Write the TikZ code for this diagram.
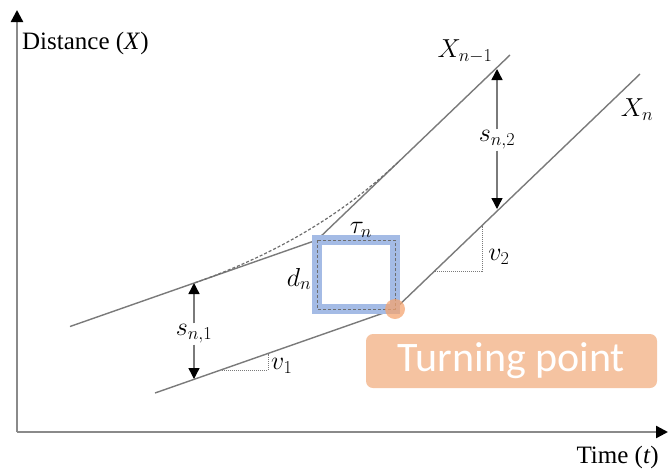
\RequirePackage{fix-cm}
\documentclass[tikz,border=0pt]{standalone}
\usepackage{fontspec}
\setmainfont{Liberation Serif}
\newfontfamily\tpfont{Carlito}
\usetikzlibrary{arrows.meta,positioning,calc}
\definecolor{axisgray}{HTML}{8A8A8A}
\definecolor{linegray}{HTML}{7A7A7A}
\definecolor{gapblue}{HTML}{A4BBE5}
\definecolor{tporange}{HTML}{F4A470}
\definecolor{tpfill}{HTML}{F5C3A1}

\begin{document}
\begin{tikzpicture}[
  x=1pt, y=-1pt,
  axis/.style={draw=axisgray, line width=2.4pt,
    -{Triangle[length=12pt, width=12pt, color=black, fill=black]}},
  traj/.style={draw=linegray, line width=1.4pt},
  curve/.style={draw=linegray!90!black, line width=1.2pt, dash pattern=on 3pt off 2pt},
  dimarrow/.style={draw=linegray, line width=1.4pt,
    -{Triangle[length=11pt, width=11pt, color=black, fill=black]}},
  slope/.style={draw=linegray, line width=1pt, densely dotted},
  lbl/.style={font=\fontsize{26}{31}\selectfont, inner sep=1pt},
  tpbox/.style={fill=tpfill, rounded corners=7pt, minimum width=291pt,
    minimum height=54pt, inner sep=0pt, text=white,
    font=\tpfont\fontsize{42}{50}\selectfont}
]
  \useasboundingbox (0,0) rectangle (669,472);
  % Axes
  \coordinate (O) at (17,432);
  \coordinate (ytip) at (17,10);
  \coordinate (xtip) at (668,432);
  \draw[axis] (O) -- (ytip);
  \draw[axis] (O) -- (xtip);
  \node[lbl, font=\fontsize{25}{30}\selectfont, anchor=west] (ylabel) at (21,43)
    {Distance (\textit{X})};
  \node[lbl, font=\fontsize{25}{30}\selectfont, anchor=east] (xlabel) at (660,457)
    {Time (\textit{t})};
  % Trajectories
  \coordinate (a0) at (70,326.5);
  \coordinate (a1) at (317,240);
  \coordinate (a2) at (510,55);
  \coordinate (b0) at (155,393);
  \coordinate (b1) at (395,309);
  \coordinate (b2) at (640,74);
  \draw[traj] (a0) -- (a1) -- (a2);
  \draw[traj] (b0) -- (b1) -- (b2);
  \node[lbl] (lblprev) at (465,51) {$X_{n-1}$};
  \node[lbl] (lblcur) at (637,110) {$X_n$};
  % Smooth transition
  \coordinate (c0) at (195,282.75);
  \coordinate (c1) at (400,160.3);
  \draw[curve] (c0) .. controls ($(c0)!2/3!(a1)$) and ($(c1)!2/3!(a1)$) .. (c1);
  % Gap box
  \draw[gapblue, line width=9.5pt] (a1) rectangle (b1);
  \draw[curve, line width=0.9pt] (a1) rectangle (b1);
  \fill[tporange, opacity=.75] (b1) circle (10pt);
  \node[lbl] (dlbl) at (299,279) {$d_n$};
  \node[lbl] (taulbl) at (361,230) {$\tau_n$};
  % Spacings
  \node[lbl] (s1) at (194,334) {$s_{n,1}$};
  \coordinate (s1top) at (194,283);
  \coordinate (s1bot) at (194,379);
  \draw[dimarrow] (s1) -- (s1top);
  \draw[dimarrow] (s1) -- (s1bot);
  \node[lbl] (s2) at (497,140) {$s_{n,2}$};
  \coordinate (s2top) at (497,69);
  \coordinate (s2bot) at (497,209);
  \draw[dimarrow] (s2) -- (s2top);
  \draw[dimarrow] (s2) -- (s2bot);
  % Speeds
  \coordinate (v1a) at (222,370);
  \coordinate (v1b) at (268,370);
  \coordinate (v1c) at (268,353.5);
  \draw[slope] (v1a) -- (v1b) -- (v1c);
  \node[lbl, anchor=west] (v1lbl) at (270,366) {$v_1$};
  \coordinate (v2a) at (435,271);
  \coordinate (v2b) at (482,271);
  \coordinate (v2c) at (482,225.5);
  \draw[slope] (v2a) -- (v2b) -- (v2c);
  \node[lbl] (v2lbl) at (499,257) {$v_2$};
  % Turning point
  \node[tpbox] (tp) at (511.5,361) {Turning point};
\end{tikzpicture}
\end{document}
